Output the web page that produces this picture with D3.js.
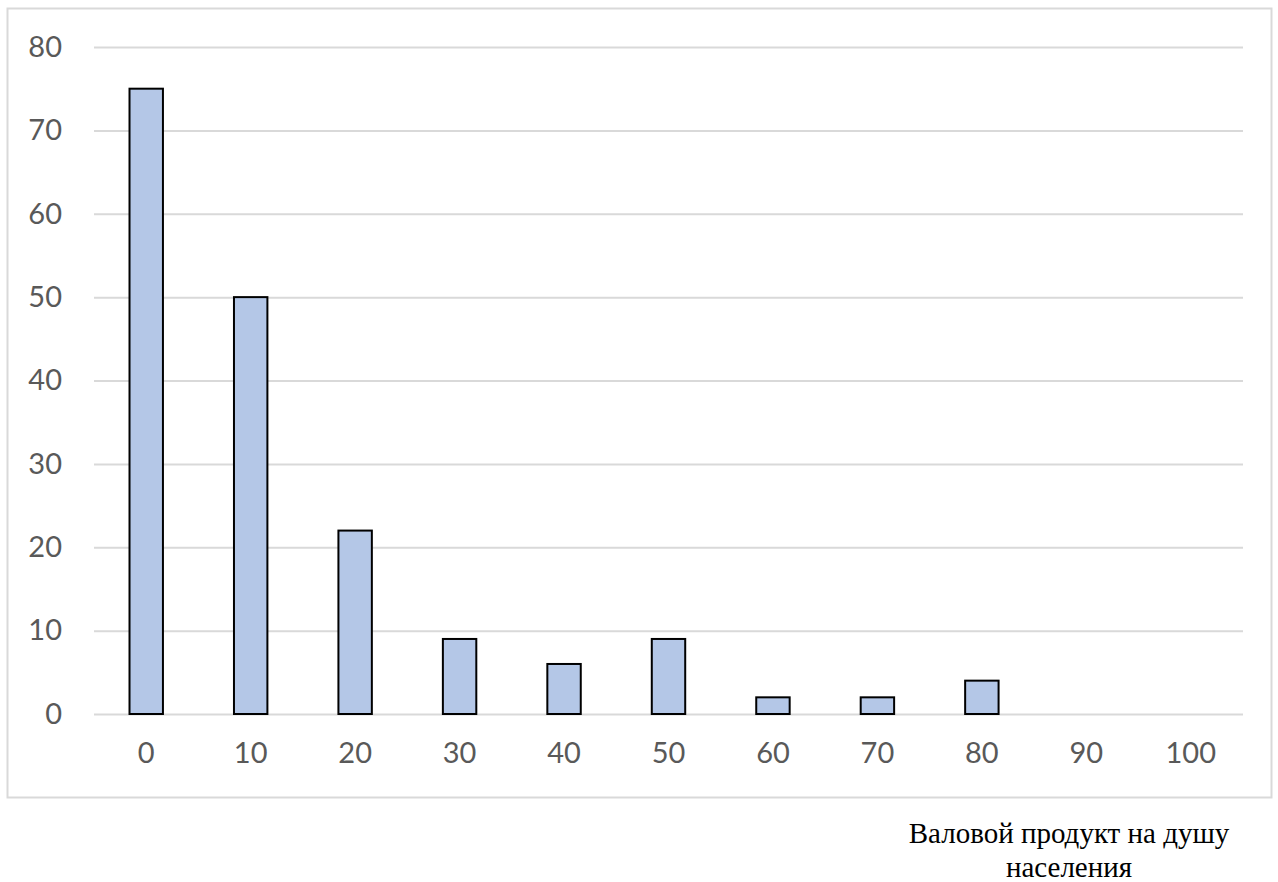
<!DOCTYPE html>
<html>
<head>
<meta charset="utf-8">
<script src="https://cdn.jsdelivr.net/npm/d3@7"></script>
<style>
  html, body { margin: 0; padding: 0; background: #fff; }
  svg { display: block; }
</style>
</head>
<body>
<div id="chart"></div>
<script>
// Histogram of gross product per capita
const categories = ["0", "10", "20", "30", "40", "50", "60", "70", "80", "90", "100"];
const counts = [75, 50, 22, 9, 6, 9, 2, 2, 4, 0, 0];
const yTicks = [0, 10, 20, 30, 40, 50, 60, 70, 80];
const axisTitleLines = ["Валовой продукт на душу", "населения"];

const W = 1278, H = 882;
const plot = { left: 94, right: 1243, top: 47, bottom: 714 };

const svg = d3.select("#chart").append("svg")
  .attr("width", W).attr("height", H);

// Chart frame
svg.append("rect")
  .attr("x", 7.5).attr("y", 8.5)
  .attr("width", 1264).attr("height", 789)
  .attr("fill", "#fff")
  .attr("stroke", "#d9d9d9").attr("stroke-width", 2);

const x = d3.scaleBand()
  .domain(categories)
  .range([plot.left, plot.right])
  .paddingInner(0.68)
  .paddingOuter(0.34);

const y = d3.scaleLinear()
  .domain([0, 80])
  .range([plot.bottom, plot.top]);

// Horizontal gridlines
const yAxis = d3.axisLeft(y)
  .tickValues(yTicks)
  .tickSize(-(plot.right - plot.left))
  .tickPadding(32)
  .tickFormat(d3.format("d"));

const gy = svg.append("g")
  .attr("transform", `translate(${plot.left},0)`)
  .call(yAxis);
gy.select(".domain").remove();
gy.selectAll(".tick line")
  .attr("stroke", "#d9d9d9").attr("stroke-width", 2);
gy.selectAll(".tick text")
  .attr("fill", "#595959")
  .attr("font-family", "Lato, 'Open Sans', sans-serif")
  .attr("font-size", 29);

// Bars
svg.append("g").selectAll("rect")
  .data(categories.map((c, i) => ({ c, v: counts[i] })).filter(d => d.v > 0))
  .join("rect")
  .attr("x", d => x(d.c))
  .attr("y", d => y(d.v))
  .attr("width", x.bandwidth())
  .attr("height", d => y(0) - y(d.v))
  .attr("fill", "#b4c7e7")
  .attr("stroke", "#000")
  .attr("stroke-width", 2);

// Category axis labels
const xAxis = d3.axisBottom(x).tickSize(0).tickPadding(28);
const gx = svg.append("g")
  .attr("transform", `translate(0,${plot.bottom})`)
  .call(xAxis);
gx.select(".domain").remove();
gx.selectAll(".tick text")
  .attr("fill", "#595959")
  .attr("font-family", "Lato, 'Open Sans', sans-serif")
  .attr("font-size", 29);

// Axis title below the frame
svg.append("text")
  .attr("x", 1069).attr("y", 843)
  .attr("text-anchor", "middle")
  .attr("font-family", "'Liberation Serif', 'Times New Roman', serif")
  .attr("font-size", 29)
  .attr("fill", "#000")
  .selectAll("tspan")
  .data(axisTitleLines)
  .join("tspan")
  .attr("x", 1069)
  .attr("dy", (d, i) => i === 0 ? 0 : 34)
  .text(d => d);
</script>
</body>
</html>
